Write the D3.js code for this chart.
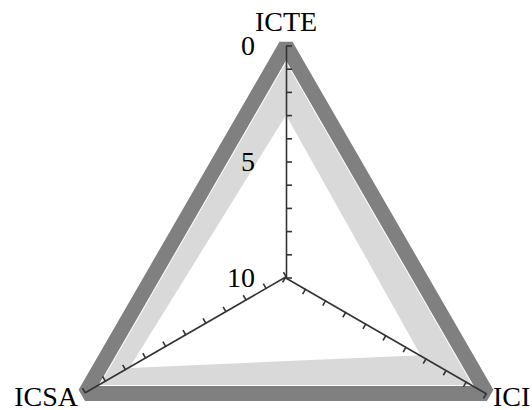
<!DOCTYPE html>
<html>
<head>
<meta charset="utf-8">
<script src="https://cdn.jsdelivr.net/npm/d3@7"></script>
<style>
  html, body { margin: 0; padding: 0; background: #fff; }
  svg { display: block; }
  text { font-family: "Liberation Serif", "Times New Roman", serif; fill: #000; }
</style>
</head>
<body>
<svg id="chart" width="532" height="410"></svg>
<script>
// Axis names, clockwise from the top
const axisNames = ["ICTE", "ICI", "ICSA"];
// Boundary series (value 0 on every axis) and the inner series
const outerValues = [0, 0, 0];
const innerValues = [3.0, 3.3, 2.2];
// Ticks along each axis and the labelled ones on the top axis
const tickValues = [0, 1, 2, 3, 4, 5, 6, 7, 8, 9, 10];
const labelValues = [0, 5, 10];

const width = 532, height = 410;
const cx = 286, cy = 277.5, radius = 232;
const fontSize = 28;

const svg = d3.select("#chart");

// 0 sits on the rim, 10 at the centre
const r = d3.scaleLinear().domain([0, 10]).range([radius, 0]);
const angle = d3.scaleLinear().domain([0, axisNames.length]).range([0, 2 * Math.PI]);

const point = (v, i) => {
  const a = angle(i);
  return [cx + r(v) * Math.sin(a), cy - r(v) * Math.cos(a)];
};
const polygon = values => "M" + values.map((v, i) => point(v, i).join(",")).join("L") + "Z";

// light band between the rim and the inner series
svg.append("path")
  .attr("d", polygon(outerValues))
  .attr("fill", "#d9d9d9");

svg.append("path")
  .attr("d", polygon(innerValues))
  .attr("fill", "#ffffff");

// rim drawn as a thick dark outline with a thin white edge
svg.append("path")
  .attr("d", polygon(outerValues))
  .attr("fill", "none")
  .attr("stroke", "#ffffff")
  .attr("stroke-width", 17)
  .attr("stroke-linejoin", "bevel");

svg.append("path")
  .attr("d", polygon(outerValues))
  .attr("fill", "none")
  .attr("stroke", "#808080")
  .attr("stroke-width", 15)
  .attr("stroke-linejoin", "bevel");

// axes: vertical scale rotated into place for each spoke
const yAxisScale = d3.scaleLinear().domain([0, 10]).range([-radius, 0]);

axisNames.forEach((name, i) => {
  const g = svg.append("g")
    .attr("transform", `translate(${cx},${cy}) rotate(${angle(i) * 180 / Math.PI})`);
  g.call(d3.axisRight(yAxisScale)
      .tickValues(tickValues)
      .tickSize(6)
      .tickSizeOuter(0)
      .tickFormat(""));
  g.selectAll("path, line")
    .attr("stroke", "#333")
    .attr("stroke-width", 1.6);
});

// numeric labels on the top spoke
const labelAxis = svg.append("g")
  .attr("transform", `translate(${cx},${cy})`)
  .call(d3.axisLeft(yAxisScale)
    .tickValues(labelValues)
    .tickSize(0)
    .tickPadding(31));
labelAxis.select(".domain").remove();
labelAxis.selectAll("text")
  .attr("font-size", fontSize)
  .attr("fill", "#000");

// spoke names
const nameOffsets = [
  { dx: 0, dy: -15, anchor: "middle" },
  { dx: 6, dy: 12, anchor: "start" },
  { dx: -7, dy: 12, anchor: "end" }
];
axisNames.forEach((name, i) => {
  const [x, y] = point(0, i);
  svg.append("text")
    .attr("x", x + nameOffsets[i].dx)
    .attr("y", y + nameOffsets[i].dy)
    .attr("text-anchor", nameOffsets[i].anchor)
    .attr("font-size", fontSize)
    .text(name);
});
</script>
</body>
</html>
